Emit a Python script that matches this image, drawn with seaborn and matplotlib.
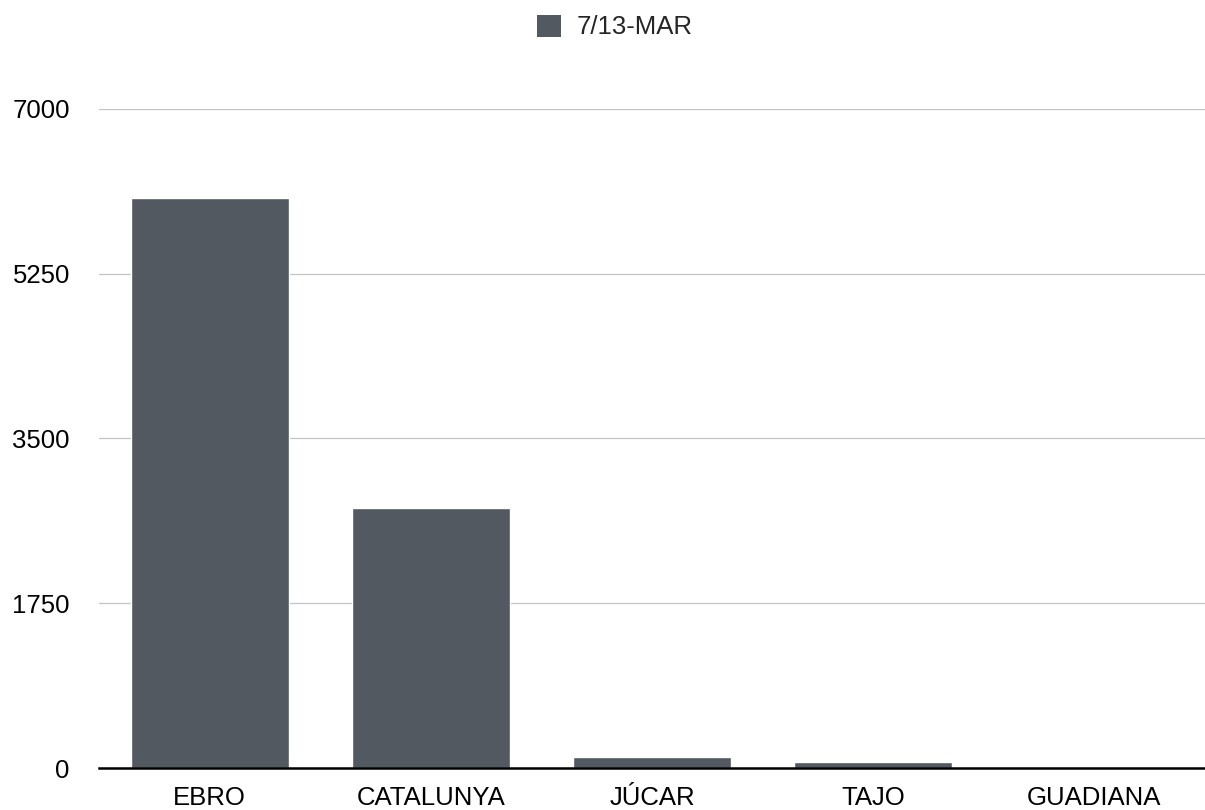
import matplotlib.pyplot as plt
from matplotlib.patches import Patch
import pandas as pd
import seaborn as sns

regions = ["EBRO", "CATALUNYA", "JÚCAR", "TAJO", "GUADIANA"]
values = [6050, 2760, 115, 62, 3]
series_name = "7/13-MAR"
y_ticks = [0, 1750, 3500, 5250, 7000]

data = pd.DataFrame({"region": regions, "value": values})

sns.set_style("white")
plt.rcParams["font.family"] = ["Liberation Sans", "DejaVu Sans"]

bar_color = "#525961"

fig, ax = plt.subplots(figsize=(12.05, 8.1), dpi=100)
fig.subplots_adjust(left=99 / 1205, right=1.0, bottom=(810 - 768) / 810, top=(810 - 109) / 810)

sns.barplot(data=data, x="region", y="value", color=bar_color, width=0.715,
            saturation=1, ax=ax, zorder=3)

ax.set_ylim(0, 7000)
ax.set_xlim(-0.5, len(regions) - 0.5)
ax.set_yticks(y_ticks)
ax.set_yticklabels([str(t) for t in y_ticks])
ax.yaxis.grid(True, color="#c4c4c4", lw=0.9)
ax.set_axisbelow(True)
ax.set_xlabel("")
ax.set_ylabel("")

for side in ["top", "right", "left"]:
    ax.spines[side].set_visible(False)
ax.spines["bottom"].set_color("black")
ax.spines["bottom"].set_linewidth(1.8)
ax.spines["bottom"].set_zorder(5)

ax.tick_params(axis="both", length=0, labelsize=18.5, colors="black")
ax.tick_params(axis="y", pad=21)
ax.tick_params(axis="x", pad=13)

handle = Patch(facecolor=bar_color, edgecolor="none", label=series_name)
fig.legend(handles=[handle], loc="center", bbox_to_anchor=(615 / 1205, 1 - 27 / 810),
           frameon=False, fontsize=18.5, handlelength=0.95, handleheight=0.95,
           handletextpad=0.6)

plt.savefig("out.png", dpi=100)
